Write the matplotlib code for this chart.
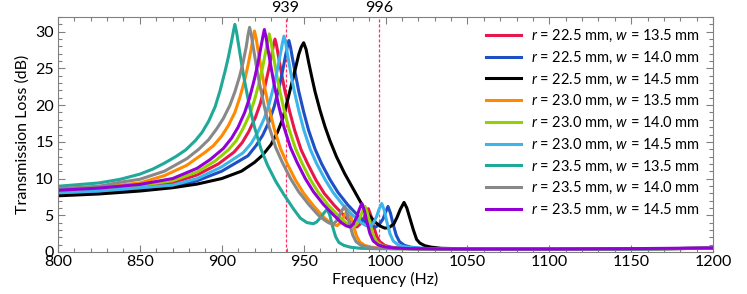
import numpy as np
import matplotlib
matplotlib.use("Agg")
import matplotlib.pyplot as plt
from matplotlib.ticker import MultipleLocator
import matplotlib.transforms as mtransforms

plt.rcParams['font.family'] = ['Lato', 'DejaVu Sans']
plt.rcParams['mathtext.fontset'] = 'custom'
plt.rcParams['mathtext.rm'] = 'Lato'
plt.rcParams['mathtext.it'] = 'Lato:italic'

# series: (frequency Hz, transmission loss dB)
f_r225_w135 = [800, 825, 850, 870, 885, 898, 907.5, 912.5, 916.5, 920.5, 923.5, 926.5, 928.5, 930.5, 931.5, 932.5,
               933.5, 934.5, 936.5, 938.5, 941.5, 944.5, 948.5, 952.5, 957.5, 962.5, 968.5, 974.5, 979.5, 981,
               982.5, 984.5, 986.5, 988, 989.5, 991, 992.5, 994.5, 996.5, 999.5, 1003.5, 1009.5, 1019.5,
               1050, 1100, 1150, 1200]
tl_r225_w135 = [8.15, 8.45, 8.9, 9.4, 10.5, 12.0, 13.6, 14.9, 16.4, 18.3, 20.2, 22.7, 24.7, 26.9, 28.1, 29.0,
                28.1, 26.8, 24.3, 22.0, 19.1, 16.6, 13.9, 12.0, 9.8, 8.0, 6.4, 5.0, 3.9, 3.55,
                3.4, 3.8, 4.5, 5.3, 5.9, 5.0, 3.7, 2.2, 1.4, 0.9, 0.65, 0.5, 0.45,
                0.4, 0.4, 0.42, 0.5]

f_r225_w140 = [800, 825, 850, 870, 885, 900, 916, 921, 925, 929, 932, 935, 937, 939, 940, 941,
               942, 943, 945, 947, 950, 953, 957, 961, 966, 971, 977, 983, 988, 991.5,
               994, 996, 998.5, 1000, 1001.5, 1003, 1004.5, 1006.5, 1008.5, 1011.5, 1015.5, 1021.5, 1031.5,
               1050, 1100, 1150, 1200]
tl_r225_w140 = [7.85, 8.1, 8.6, 8.9, 9.7, 11.0, 13.1, 14.5, 15.9, 17.8, 19.8, 22.4, 24.5, 26.8, 27.9, 28.8,
                27.9, 26.6, 24.2, 21.9, 19.1, 16.6, 14.0, 12.0, 9.9, 8.1, 6.4, 5.0, 4.0, 3.5,
                3.4, 3.7, 4.5, 5.4, 6.2, 5.3, 3.9, 2.3, 1.4, 0.9, 0.65, 0.5, 0.45,
                0.4, 0.4, 0.42, 0.5]

f_r225_w145 = [800, 825, 850, 870, 885, 900, 912, 920, 925, 930, 934, 937, 940, 943, 945, 947, 948.5, 950,
               951.5, 953, 955, 957, 960, 963, 966, 970, 975, 980, 985, 990, 994, 997,
               999.5, 1002, 1005, 1007, 1009, 1011.3, 1013, 1015, 1017, 1019, 1021, 1024, 1028, 1034, 1044,
               1050, 1100, 1150, 1200]
tl_r225_w145 = [7.65, 7.9, 8.3, 8.75, 9.25, 10.0, 11.0, 12.2, 13.2, 14.6, 16.3, 18.0, 20.5, 23.2, 25.0, 26.9, 27.9, 28.5,
                27.6, 25.9, 23.8, 21.8, 19.3, 17.1, 15.2, 13.0, 10.7, 8.7, 6.7, 5.0, 4.0, 3.5,
                3.25, 3.3, 3.8, 4.7, 5.8, 6.75, 6.0, 4.5, 3.0, 1.7, 1.2, 0.85, 0.65, 0.5, 0.45,
                0.4, 0.4, 0.42, 0.5]

f_r230_w135 = [800, 825, 850, 865, 878.6, 890, 895, 900, 904, 908, 911, 914, 916, 918, 919, 920,
               921, 922, 924, 926, 929, 932, 936, 940, 945, 950, 956, 962, 966, 968.5,
               970.5, 972.5, 974.5, 976, 977.3, 978.8, 980.3, 982.3, 984.3, 987.3, 991.3, 997.3, 1007,
               1050, 1100, 1150, 1200]
tl_r230_w135 = [8.5, 8.8, 9.4, 10.4, 11.8, 13.6, 14.5, 15.8, 17.2, 19.0, 21.0, 23.4, 25.4, 27.7, 29.0, 30.1,
                29.1, 27.7, 25.1, 22.6, 19.5, 16.8, 14.0, 12.0, 9.8, 8.0, 6.3, 4.8, 4.0, 3.7,
                3.6, 4.0, 4.8, 5.4, 5.7, 4.9, 3.6, 2.2, 1.35, 0.9, 0.65, 0.5, 0.45,
                0.4, 0.4, 0.42, 0.5]

f_r230_w140 = [800, 825, 850, 870, 885, 896, 904, 909, 913, 917, 920, 923, 925, 927, 928, 929,
               930, 931, 933, 935, 938, 941, 945, 949, 954, 959, 965, 971, 976, 978.5,
               980.5, 982.5, 984.5, 986, 987.5, 989, 990.5, 992.5, 994.5, 997.5, 1001.5, 1007.5, 1017.5,
               1050, 1100, 1150, 1200]
tl_r230_w140 = [8.3, 8.6, 9.05, 9.7, 10.9, 12.4, 13.9, 15.2, 16.8, 18.7, 20.7, 23.2, 25.2, 27.5, 28.7, 29.7,
                28.7, 27.4, 24.8, 22.4, 19.4, 16.8, 14.1, 12.1, 9.9, 8.1, 6.4, 5.0, 3.95, 3.55,
                3.4, 3.8, 4.7, 5.6, 6.2, 5.3, 3.9, 2.3, 1.4, 0.9, 0.65, 0.5, 0.45,
                0.4, 0.4, 0.42, 0.5]

f_r230_w145 = [800, 825, 850, 870, 885, 900, 913, 918, 922, 926, 929, 932, 934, 936, 937, 938,
               939, 940, 942, 944, 947, 950, 954, 958, 963, 968, 974, 980, 985, 988,
               990.5, 992.5, 994.5, 996, 997.7, 999.2, 1000.7, 1002.7, 1004.7, 1007.7, 1011.7, 1017.7, 1027.7,
               1050, 1100, 1150, 1200]
tl_r230_w145 = [8.05, 8.3, 8.75, 9.1, 10.0, 11.6, 13.5, 14.8, 16.3, 18.2, 20.2, 22.8, 24.9, 27.2, 28.4, 29.4,
                28.5, 27.1, 24.6, 22.2, 19.3, 16.7, 14.0, 12.0, 9.9, 8.1, 6.4, 5.0, 4.0, 3.6,
                3.5, 3.9, 4.8, 5.8, 6.6, 5.7, 4.2, 2.5, 1.5, 0.95, 0.7, 0.55, 0.45,
                0.4, 0.4, 0.42, 0.5]

f_r235_w135 = [800, 825, 838, 850, 858, 865, 872, 878, 884, 888, 892, 896, 899, 902, 904, 906, 907, 908,
               909, 910, 912, 914, 917, 920, 924, 928, 933, 938, 944, 948, 952, 956,
               958, 960, 962, 963.5, 964.5, 966, 967.5, 969.5, 971.5, 974.5, 978.5, 984.5, 994.5,
               1050, 1100, 1150, 1200]
tl_r235_w135 = [8.95, 9.4, 9.9, 10.6, 11.3, 12.1, 13.0, 13.9, 15.2, 16.3, 17.8, 19.8, 22.0, 24.6, 26.5, 28.7, 29.9, 31.0,
                30.0, 28.6, 25.8, 23.2, 19.8, 17.0, 14.0, 11.8, 9.6, 7.8, 5.8, 4.6, 4.0, 3.85,
                4.1, 4.6, 5.2, 5.6, 5.8, 5.0, 3.6, 2.1, 1.3, 0.9, 0.65, 0.5, 0.45,
                0.4, 0.4, 0.42, 0.5]

f_r235_w140 = [800, 825, 838, 850, 865, 878.6, 886, 892, 897, 901, 905, 908, 911, 913, 915, 916, 917,
               918, 919, 921, 923, 926, 929, 933, 937, 942, 947, 953, 959, 963, 965.5,
               968, 970, 972, 973.5, 975, 976.5, 978, 980, 982, 985, 989, 995, 1005,
               1050, 1100, 1150, 1200]
tl_r235_w140 = [8.65, 8.95, 9.5, 9.9, 11.0, 12.7, 14.0, 15.3, 16.8, 18.2, 20.0, 21.8, 24.0, 25.8, 28.0, 29.5, 30.6,
                29.6, 28.2, 25.5, 23.0, 19.8, 17.0, 14.2, 12.2, 10.0, 8.2, 6.5, 5.0, 4.3, 3.95,
                3.8, 4.2, 5.0, 5.7, 6.2, 5.3, 3.9, 2.3, 1.4, 0.9, 0.65, 0.5, 0.45,
                0.4, 0.4, 0.42, 0.5]

f_r235_w145 = [800, 825, 850, 870, 885, 893, 901, 906, 910, 914, 917, 920, 922, 924, 925, 926,
               927, 928, 930, 932, 935, 938, 942, 946, 951, 956, 962, 968, 973, 976,
               978.3, 980.3, 982.3, 984, 985.5, 987, 988.5, 990.5, 992.5, 995.5, 999.5, 1005, 1015,
               1050, 1100, 1150, 1200]
tl_r235_w145 = [8.4, 8.7, 9.2, 10.0, 11.4, 12.6, 14.1, 15.5, 17.0, 19.0, 21.0, 23.6, 25.6, 28.0, 29.2, 30.3,
                29.3, 27.9, 25.3, 22.8, 19.7, 17.0, 14.2, 12.2, 10.0, 8.2, 6.5, 5.1, 4.0, 3.55,
                3.4, 3.8, 4.7, 5.8, 6.6, 5.7, 4.2, 2.5, 1.5, 0.95, 0.7, 0.55, 0.45,
                0.4, 0.4, 0.45, 0.55]

labels = [r'$r$ = 22.5 mm, $w$ = 13.5 mm', r'$r$ = 22.5 mm, $w$ = 14.0 mm', r'$r$ = 22.5 mm, $w$ = 14.5 mm',
          r'$r$ = 23.0 mm, $w$ = 13.5 mm', r'$r$ = 23.0 mm, $w$ = 14.0 mm', r'$r$ = 23.0 mm, $w$ = 14.5 mm',
          r'$r$ = 23.5 mm, $w$ = 13.5 mm', r'$r$ = 23.5 mm, $w$ = 14.0 mm', r'$r$ = 23.5 mm, $w$ = 14.5 mm']
colors = ['#e8174b', '#1f4fc4', '#000000', '#ff8a00', '#95d000', '#3db5ea', '#20a898', '#888888', '#9200d6']
series = [(f_r225_w135, tl_r225_w135), (f_r225_w140, tl_r225_w140), (f_r225_w145, tl_r225_w145),
          (f_r230_w135, tl_r230_w135), (f_r230_w140, tl_r230_w140), (f_r230_w145, tl_r230_w145),
          (f_r235_w135, tl_r235_w135), (f_r235_w140, tl_r235_w140), (f_r235_w145, tl_r235_w145)]

marked = [939, 996]

fs = 11.5
fig = plt.figure(figsize=(7.47, 2.94), dpi=100)
ax = fig.add_axes([0.0776, 0.143, 0.877, 0.799])

for (f, tl), c, lab in zip(series, colors, labels):
    ax.plot(f, tl, color=c, lw=2.2, label=lab, solid_joinstyle='round')

trans = mtransforms.blended_transform_factory(ax.transData, ax.transAxes)
for m in marked:
    ax.axvline(m, color='#ff3366', lw=0.9, ls=(0, (2.5, 1.5)), zorder=0)
    ax.text(m, 1.038, str(m), transform=trans, ha='center', va='center', fontsize=fs)

ax.set_xlim(800, 1200)
ax.set_ylim(0, 32)
ax.xaxis.set_major_locator(MultipleLocator(50))
ax.xaxis.set_minor_locator(MultipleLocator(10))
ax.yaxis.set_major_locator(MultipleLocator(5))
ax.yaxis.set_minor_locator(MultipleLocator(1))
ax.tick_params(which='both', direction='in', top=True, right=True, color='#808080', labelsize=fs)
ax.tick_params(axis='x', pad=2)
ax.tick_params(axis='y', pad=3)
ax.tick_params(which='major', length=5, width=0.8)
ax.tick_params(which='minor', length=3, width=0.8)
for s in ax.spines.values():
    s.set_color('#808080')
    s.set_linewidth(0.8)

ax.set_xlabel('Frequency (Hz)', fontsize=fs, labelpad=2)
ax.set_ylabel('Transmission Loss (dB)', fontsize=fs, labelpad=4)

ax.legend(loc='upper right', frameon=False, fontsize=10.5, handlelength=2.4, handletextpad=0.7,
          labelspacing=0.38, borderaxespad=0, bbox_to_anchor=(0.989, 0.979))

fig.savefig('out.png', dpi=100)
